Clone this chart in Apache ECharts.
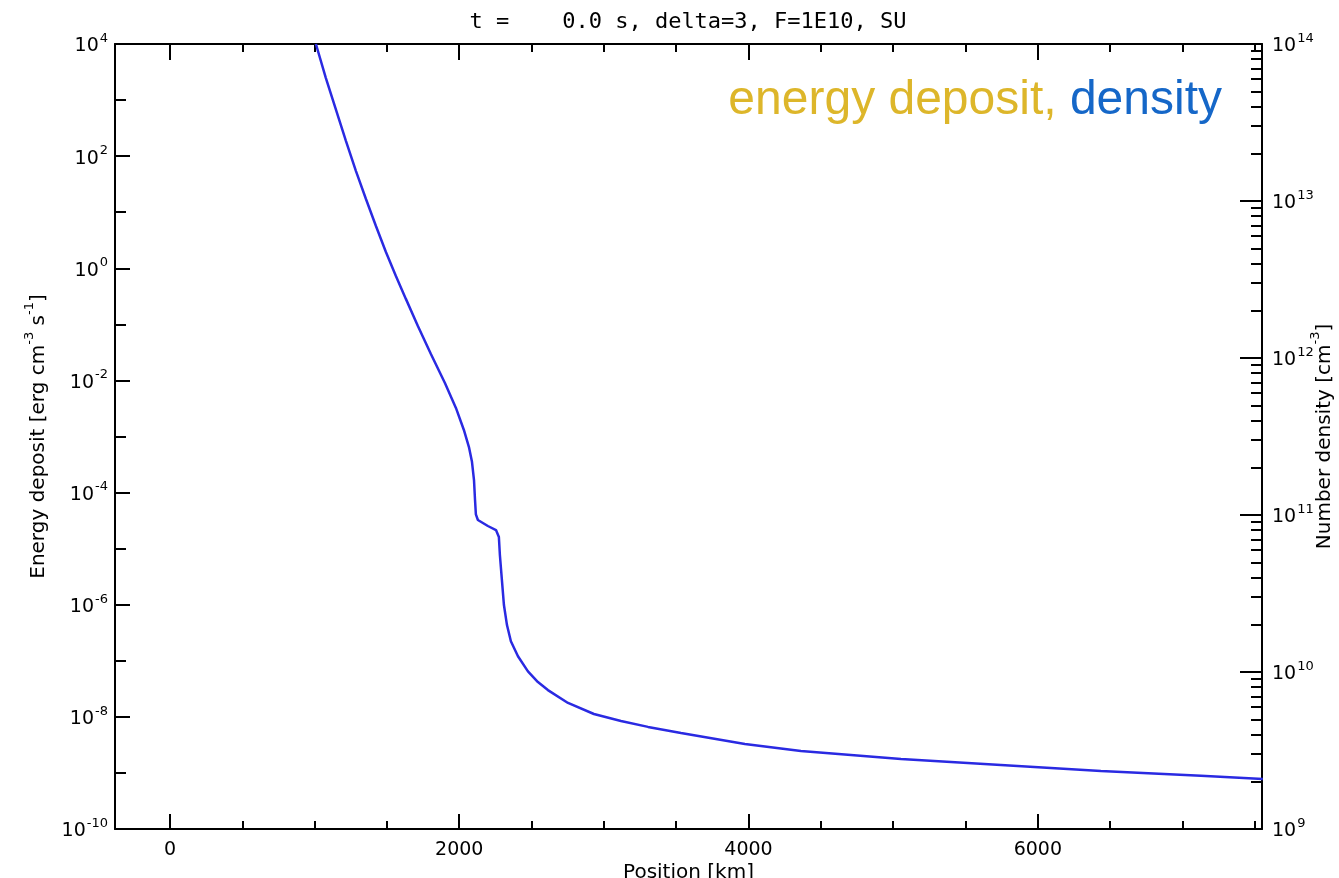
<!DOCTYPE html>
<html>
<head>
<meta charset="utf-8">
<script src="https://cdn.jsdelivr.net/npm/echarts@6/dist/echarts.min.js"></script>
<style>
html,body{margin:0;padding:0;background:#fff;}
#chart{width:1339px;height:878px;}
</style>
</head>
<body>
<div id="chart"></div>
<script>
// ---- data ----
const titleText = 't =    0.0 s, delta=3, F=1E10, SU';
const positionKm = [1009,1078,1148,1217,1286,1355,1424,1493,1562,1631,1714,1804,1901,1977,2032,2067,2088,2102,2109,2115,2129,2198,2254,2274,2281,2295,2309,2330,2357,2406,2475,2544,2613,2752,2931,3118,3305,3533,3975,4362,5054,5745,6436,7128,7556];
const densityCm3 = [1.00e14,6.07e13,3.80e13,2.41e13,1.55e13,1.03e13,6.93e12,4.73e12,3.33e12,2.38e12,1.60e12,1.06e12,6.93e11,4.81e11,3.48e11,2.71e11,2.18e11,1.67e11,1.25e11,1.01e11,9.29e10,8.51e10,8.02e10,7.24e10,5.56e10,3.85e10,2.67e10,1.99e10,1.57e10,1.26e10,1.01e10,8.63e9,7.67e9,6.35e9,5.40e9,4.88e9,4.47e9,4.09e9,3.48e9,3.14e9,2.79e9,2.56e9,2.34e9,2.18e9,2.08e9];
const xMajorTicks = [0,2000,4000,6000];
const xMinorTicks = [500,1000,1500,2500,3000,3500,4500,5000,5500,6500,7000,7500];
const leftExpMajor = [-10,-8,-6,-4,-2,0,2,4];
const leftExpMinor = [-9,-7,-5,-3,-1,1,3];
const rightExpMajor = [9,10,11,12,13,14];

const rightMinor = [];
for (let d = 9; d < 14; d++) for (let k = 2; k <= 9; k++) rightMinor.push(Math.log10(k) + d);

const FONT = 'DejaVu Sans';
const black = '#000';
const supRich = {
  b: {fontFamily: FONT, fontSize: 19, color: black, lineHeight: 24, verticalAlign: 'bottom'},
  s: {fontFamily: FONT, fontSize: 13, color: black, lineHeight: 24, verticalAlign: 'top', padding:[0,0,0,1]}
};
const nameRich = {
  n: {fontFamily: FONT, fontSize: 20, color: black, lineHeight: 26, verticalAlign: 'bottom'},
  s: {fontFamily: FONT, fontSize: 13, color: black, lineHeight: 26, verticalAlign: 'top'}
};

const chart = echarts.init(document.getElementById('chart'), null, {renderer: 'canvas'});
const lineStyle = {color: black, width: 2};
const X_MIN = -380, X_MAX = 7550;

function xAx(pos, ticks, len, showLine, labels) {
  return {
    type: 'value', position: pos, min: X_MIN, max: X_MAX,
    axisLine: {show: showLine, onZero: false, lineStyle: lineStyle},
    axisTick: {show: true, inside: true, length: len, customValues: ticks, lineStyle: {color: black, width: 2}},
    axisLabel: labels ? {show: true, customValues: ticks, fontFamily: FONT, fontSize: 19, color: black, margin: 12, formatter: v => String(v)} : {show: false},
    splitLine: {show: false}
  };
}
function yAx(pos, min, max, ticks, len, showLine, labels, extra) {
  return Object.assign({
    type: 'value', position: pos, min: min, max: max,
    axisLine: {show: showLine, onZero: false, lineStyle: lineStyle},
    axisTick: {show: true, inside: true, length: len, customValues: ticks, lineStyle: {color: black, width: 2}},
    axisLabel: labels ? {show: true, customValues: ticks, margin: (pos === 'left' ? 7 : 10), formatter: v => '{b|10}{s|' + Math.round(v) + '}', rich: supRich} : {show: false},
    splitLine: {show: false}
  }, extra || {});
}

const option = {
  animation: false,
  backgroundColor: '#fff',
  grid: {left: 115, right: 77, top: 44, bottom: 49, containLabel: false, outerBoundsMode: 'none'},
  xAxis: [
    Object.assign(xAx('bottom', xMajorTicks, 15, true, true), {
      name: 'Position [km]', nameLocation: 'middle', nameGap: 34, nameMoveOverlap: false,
      nameTextStyle: {fontFamily: FONT, fontSize: 20, color: black, verticalAlign: 'top'}
    }),
    xAx('bottom', xMinorTicks, 8, false, false),
    xAx('top', xMajorTicks, 16, true, false),
    xAx('top', xMinorTicks, 8, false, false)
  ],
  yAxis: [
    yAx('left', -10, 4, leftExpMajor, 15, true, true, {
      name: '{n|Energy deposit [erg cm}{s|-3}{n| s}{s|-1}{n|]}', nameLocation: 'middle', nameGap: 66, nameRotate: 90, nameMoveOverlap: false,
      nameTextStyle: {rich: nameRich}
    }),
    yAx('left', -10, 4, leftExpMinor, 11, false, false),
    yAx('right', 9, 14, rightExpMajor, 22, true, true, {
      name: '{n|Number density [cm}{s|-3}{n|]}', nameLocation: 'middle', nameGap: 47, nameRotate: 90, nameMoveOverlap: false,
      nameTextStyle: {rich: nameRich}
    }),
    yAx('right', 9, 14, rightMinor, 11, false, false)
  ],
  graphic: [
    {type: 'text', x: 688, y: 22, style: {text: titleText, font: '22px "DejaVu Sans Mono"', fill: black, textAlign: 'center', textVerticalAlign: 'middle'}},
    {type: 'text', x: 1222, y: 101, style: {
      text: '{a|energy deposit, }{b|density}', textAlign: 'right', textVerticalAlign: 'middle',
      rich: {
        a: {fontFamily: 'Liberation Sans', fontSize: 48, fill: '#DDB62A', color: '#DDB62A'},
        b: {fontFamily: 'Liberation Sans', fontSize: 48, fill: '#1567C8', color: '#1567C8'}
      }
    }}
  ],
  series: [{
    name: 'density', type: 'line', xAxisIndex: 0, yAxisIndex: 2,
    data: positionKm.map((p, i) => [p, Math.log10(densityCm3[i])]),
    showSymbol: false, symbol: 'none', smooth: false, clip: true,
    lineStyle: {color: '#2a2ae2', width: 2.5}
  }]
};
chart.setOption(option);
</script>
</body>
</html>
